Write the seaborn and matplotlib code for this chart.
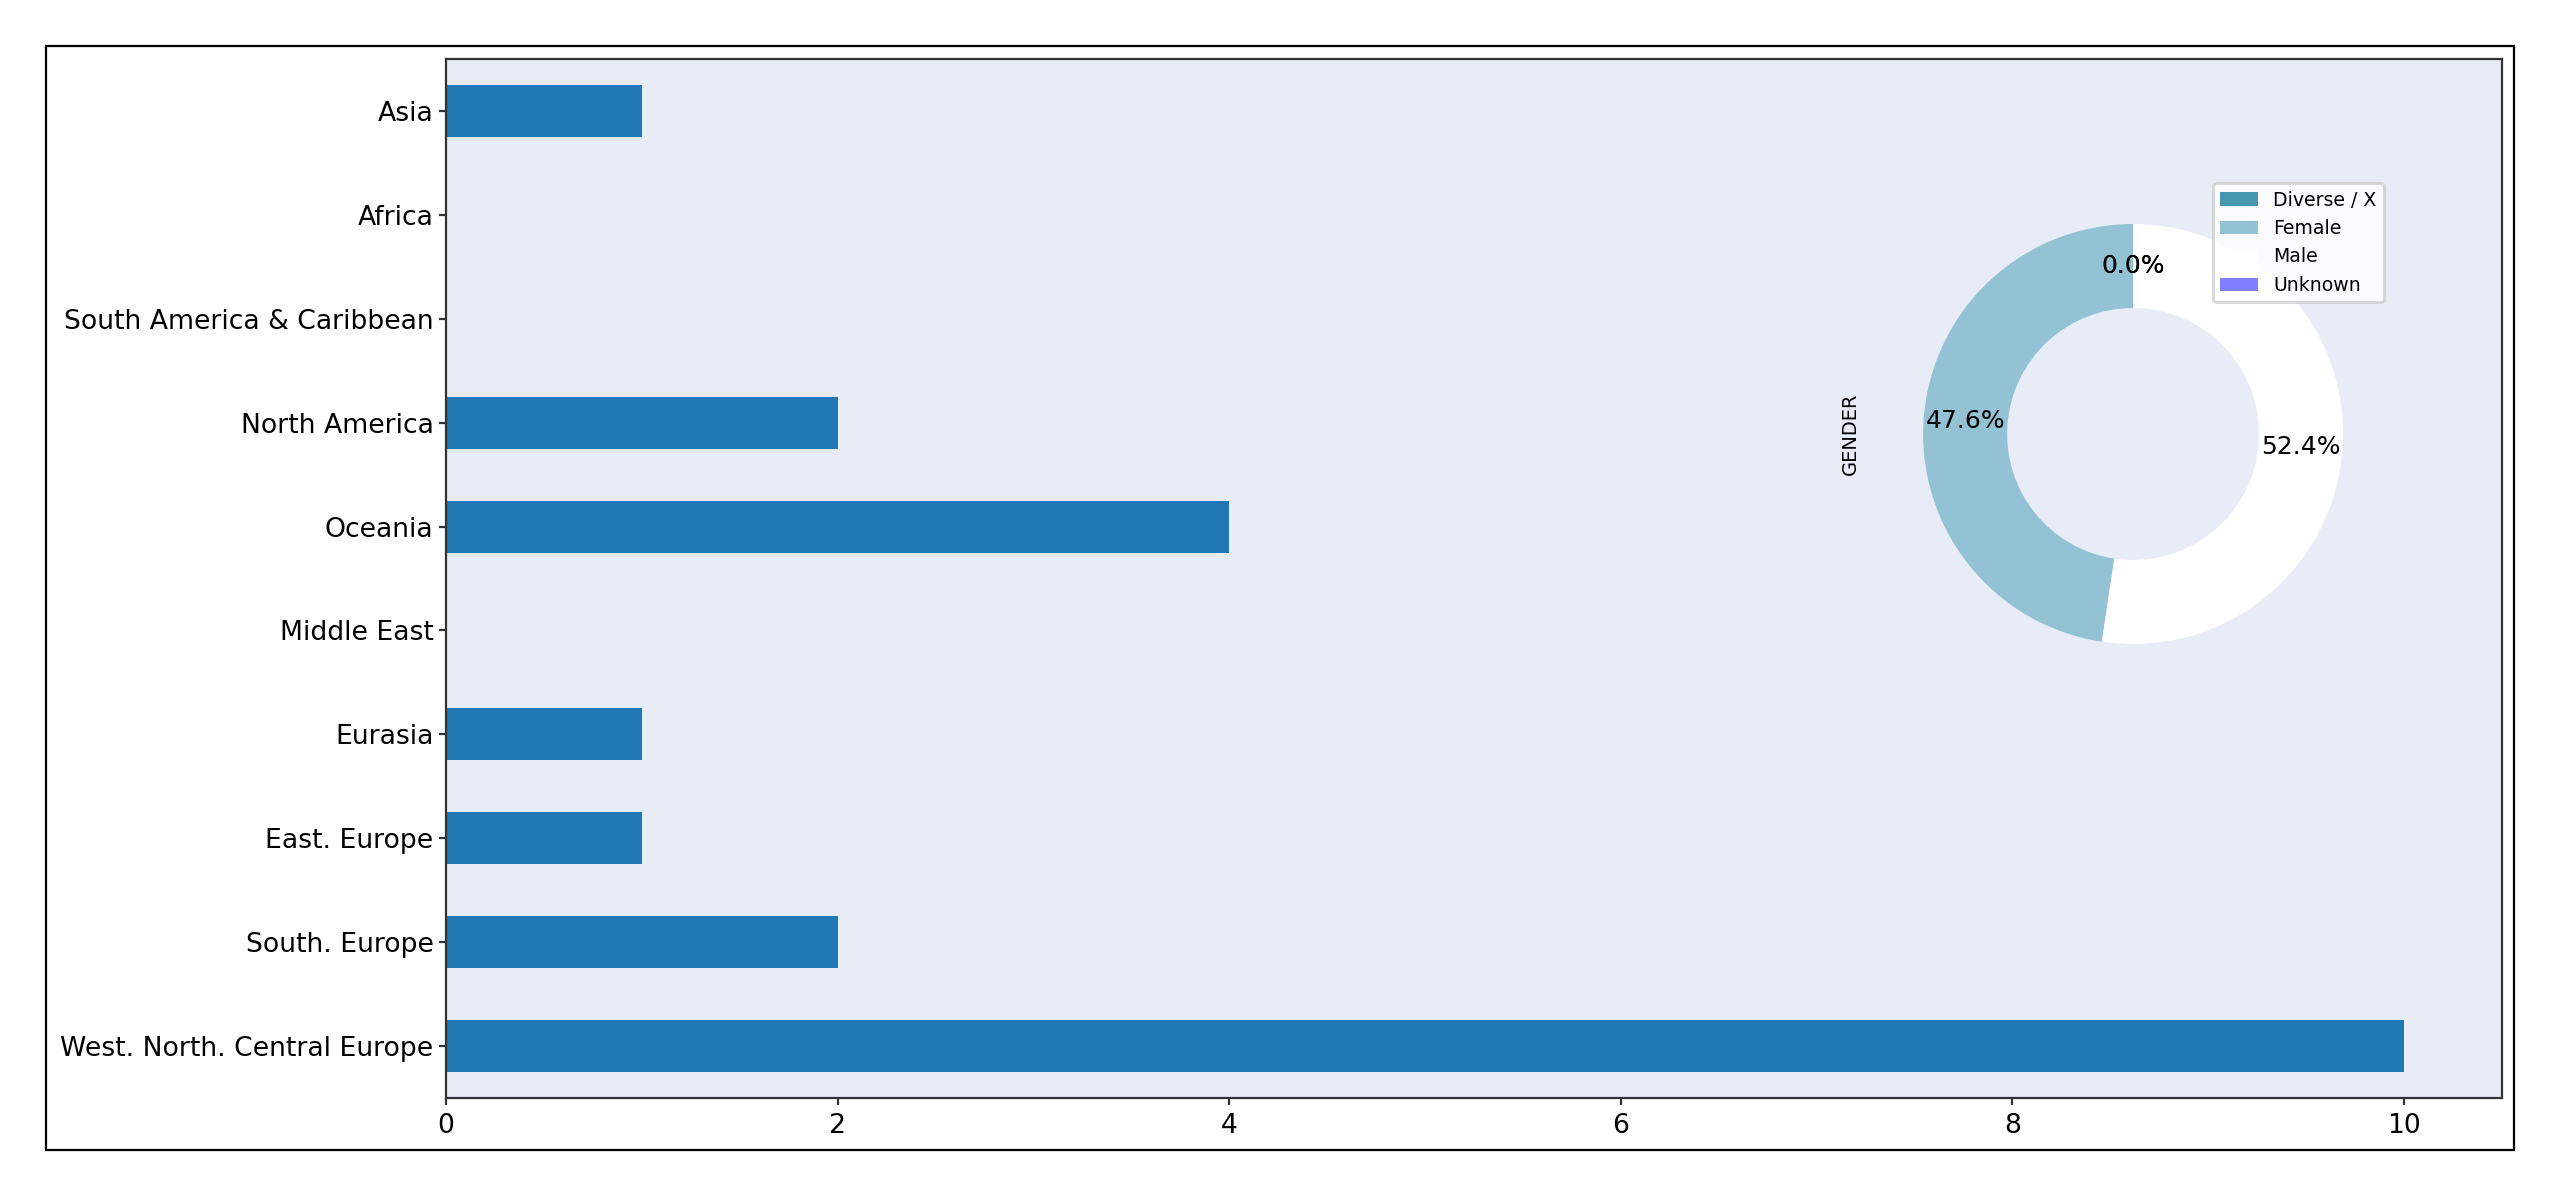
import matplotlib
matplotlib.use("Agg")
import matplotlib.pyplot as plt
import seaborn as sns
import pandas as pd
from matplotlib.patches import Rectangle

# ---- data ----
regions = ["Asia", "Africa", "South America & Caribbean", "North America", "Oceania",
           "Middle East", "Eurasia", "East. Europe", "South. Europe",
           "West. North. Central Europe"]
region_counts = [1, 0, 0, 2, 4, 0, 1, 1, 2, 10]

genders = ["Diverse / X", "Female", "Male", "Unknown"]
gender_counts = [0, 10, 11, 0]
gender_colors = ["#4596ae", "#93c2d4", "#ffffff", "#8080ff"]

xticks = [0, 2, 4, 6, 8, 10]

BG = "#E8ECF6"

plt.rcParams["font.family"] = ["DejaVu Sans"]

fig = plt.figure(figsize=(12.8, 5.985), dpi=200)
fig.patch.set_facecolor("white")

# outer frame
fig.patches.append(Rectangle((0.018, 0.0393), 0.964, 0.9223, transform=fig.transFigure,
                             fill=False, edgecolor="black", linewidth=0.8, zorder=0))

ax = fig.add_axes([0.1742, 0.0827, 0.8031, 0.868])
ax.set_facecolor(BG)
df = pd.DataFrame({"region": regions, "count": region_counts})
sns.barplot(data=df, x="count", y="region", order=regions, orient="h",
            color="#1f77b4", saturation=1, width=0.5, ax=ax)
ax.set_xlim(0, 10.5)
ax.set_ylim(9.5, -0.5)
ax.set_xticks(xticks)
ax.set_xticklabels([str(t) for t in xticks])
ax.set_xlabel("")
ax.set_ylabel("")
ax.tick_params(labelsize=9.6, length=2.5, width=0.8, color="#333333")
ax.tick_params(axis="y", pad=2)
ax.tick_params(axis="x", pad=3)
for s in ax.spines.values():
    s.set_visible(True)
    s.set_color("#333333")
    s.set_linewidth(0.8)

# ---- donut inset ----
pax = fig.add_axes([0.7307, 0.4181, 0.2051, 0.4386])
wedges, texts, autotexts = pax.pie(gender_counts, colors=gender_colors, startangle=90,
                                   autopct="%1.1f%%", pctdistance=0.8,
                                   wedgeprops=dict(width=0.4, linewidth=0),
                                   textprops=dict(fontsize=9))
pax.set_aspect("equal")
pax.set_ylabel("GENDER", fontsize=7)
pax.axis("on")
pax.set_frame_on(False)
pax.set_xticks([])
pax.set_yticks([])

leg = fig.legend(wedges, genders, loc="upper right", bbox_to_anchor=(0.9313, 0.8471),
                 fontsize=6.8, frameon=True, framealpha=0.8, borderaxespad=0)
leg.get_frame().set_edgecolor("#cccccc")

fig.savefig("out.png", dpi=200)
